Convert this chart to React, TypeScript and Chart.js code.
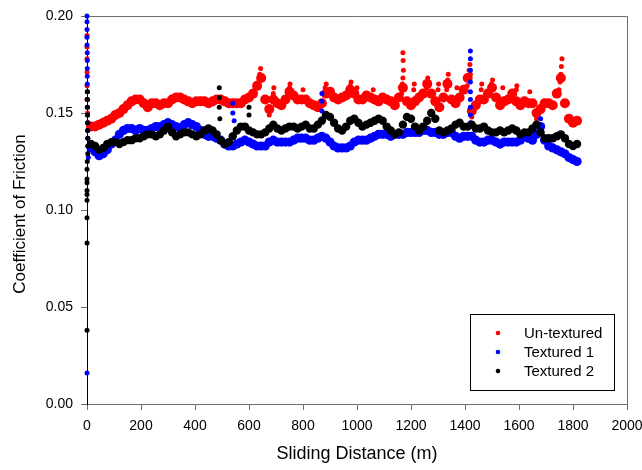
import React, { useEffect, useRef } from "react";
import { Chart, registerables } from "chart.js";

Chart.register(...registerables);

// Sliding distance grid (m) for the main traces
const distance = [
  15, 30, 45, 60, 75, 90, 105, 120, 135, 150,
  165, 180, 195, 210, 225, 240, 255, 270, 285, 300,
  315, 330, 345, 360, 375, 390, 405, 420, 435, 450,
  465, 480, 495, 510, 525, 540, 555, 570, 585, 600,
  615, 630, 645, 660, 675, 690, 705, 720, 735, 750,
  765, 780, 795, 810, 825, 840, 855, 870, 885, 900,
  915, 930, 945, 960, 975, 990, 1005, 1020, 1035, 1050,
  1065, 1080, 1095, 1110, 1125, 1140, 1155, 1170, 1185, 1200,
  1215, 1230, 1245, 1260, 1275, 1290, 1305, 1320, 1335, 1350,
  1365, 1380, 1395, 1410, 1425, 1440, 1455, 1470, 1485, 1500,
  1515, 1530, 1545, 1560, 1575, 1590, 1605, 1620, 1635, 1650,
  1665, 1680, 1695, 1710, 1725, 1740, 1755, 1770, 1785, 1800,
  1815,
];

const untextured = [
  0.143, 0.143, 0.144, 0.145, 0.146, 0.147, 0.149, 0.150, 0.152, 0.154,
  0.156, 0.157, 0.157, 0.155, 0.153, 0.155, 0.155, 0.154, 0.155, 0.155,
  0.157, 0.158, 0.158, 0.157, 0.156, 0.155, 0.156, 0.156, 0.156, 0.155,
  0.156, 0.157, 0.157, 0.156, 0.155, 0.155, 0.155, 0.155, 0.157, 0.158,
  0.160, 0.164, 0.168, 0.157, 0.152, 0.157, 0.155, 0.154, 0.157, 0.161,
  0.159, 0.157, 0.157, 0.157, 0.155, 0.154, 0.153, 0.155, 0.160, 0.161,
  0.158, 0.157, 0.158, 0.159, 0.162, 0.160, 0.157, 0.157, 0.159, 0.158,
  0.157, 0.156, 0.158, 0.157, 0.156, 0.154, 0.158, 0.163, 0.156, 0.154,
  0.156, 0.158, 0.160, 0.165, 0.160, 0.156, 0.153, 0.158, 0.165, 0.157,
  0.155, 0.158, 0.162, 0.168, 0.151, 0.154, 0.157, 0.157, 0.160, 0.163,
  0.158, 0.154, 0.156, 0.157, 0.160, 0.156, 0.154, 0.156, 0.155, 0.155,
  0.150, 0.152, 0.155, 0.155, 0.154, 0.160, 0.168, 0.155, 0.147, 0.145,
  0.146,
];

const textured1 = [
  0.132, 0.130, 0.128, 0.129, 0.131, 0.134, 0.136, 0.139, 0.141, 0.142,
  0.142, 0.141, 0.142, 0.141, 0.141, 0.142, 0.143, 0.143, 0.144, 0.145,
  0.144, 0.143, 0.142, 0.144, 0.145, 0.144, 0.143, 0.141, 0.139, 0.138,
  0.138, 0.137, 0.136, 0.134, 0.133, 0.133, 0.134, 0.135, 0.136, 0.135,
  0.134, 0.133, 0.133, 0.133, 0.135, 0.136, 0.135, 0.135, 0.135, 0.135,
  0.136, 0.137, 0.137, 0.137, 0.136, 0.136, 0.137, 0.138, 0.137, 0.135,
  0.133, 0.132, 0.132, 0.132, 0.133, 0.135, 0.136, 0.136, 0.136, 0.137,
  0.138, 0.139, 0.139, 0.139, 0.138, 0.139, 0.139, 0.139, 0.140, 0.140,
  0.140, 0.140, 0.141, 0.141, 0.140, 0.140, 0.139, 0.139, 0.140, 0.140,
  0.138, 0.137, 0.138, 0.138, 0.138, 0.136, 0.135, 0.135, 0.136, 0.136,
  0.135, 0.134, 0.135, 0.135, 0.135, 0.135, 0.136, 0.139, 0.137, 0.136,
  0.139, 0.143, 0.136, 0.133, 0.132, 0.131, 0.130, 0.129, 0.127, 0.126,
  0.125,
];

const textured2 = [
  0.134, 0.133, 0.131, 0.132, 0.134, 0.135, 0.135, 0.134, 0.135, 0.136,
  0.136, 0.137, 0.137, 0.138, 0.139, 0.139, 0.138, 0.139, 0.141, 0.143,
  0.140, 0.138, 0.139, 0.140, 0.140, 0.139, 0.138, 0.139, 0.141, 0.142,
  0.141, 0.139, 0.136, 0.134, 0.135, 0.138, 0.141, 0.143, 0.143, 0.141,
  0.140, 0.139, 0.139, 0.140, 0.142, 0.144, 0.142, 0.141, 0.142, 0.143,
  0.143, 0.142, 0.143, 0.144, 0.142, 0.142, 0.144, 0.146, 0.149, 0.148,
  0.145, 0.142, 0.141, 0.143, 0.146, 0.147, 0.145, 0.143, 0.144, 0.145,
  0.146, 0.147, 0.146, 0.143, 0.141, 0.139, 0.140, 0.144, 0.148, 0.147,
  0.143, 0.141, 0.143, 0.146, 0.150, 0.147, 0.141, 0.140, 0.141, 0.142,
  0.144, 0.145, 0.143, 0.143, 0.144, 0.142, 0.142, 0.143, 0.141, 0.140,
  0.140, 0.141, 0.140, 0.141, 0.142, 0.141, 0.139, 0.140, 0.140, 0.142,
  0.144, 0.140, 0.137, 0.137, 0.137, 0.138, 0.139, 0.137, 0.134, 0.133,
  0.134,
];

// Isolated points (start-up transient, spikes and peak runs)
const untexturedSpikeDist = [
  0, 0, 0, 0, 0, 0, 2, 4,
  636, 640, 643, 690, 692,
  1165, 1168, 1170, 1172, 1171, 1170,
  1258, 1262, 1332, 1336, 1338,
  1408, 1412, 1415, 1418, 1420, 1498, 1502,
  1748, 1752, 1755, 1757, 1759,
  750, 752, 800, 882, 886, 975, 978, 1000, 1060,
  1210, 1212, 1300, 1302, 1370, 1460, 1462, 1540, 1590, 1592, 1640,
  675, 1425, 1665,
];
const untexturedSpikeVal = [
  0.190, 0.184, 0.178, 0.171, 0.164, 0.157, 0.150, 0.145,
  0.166, 0.170, 0.173, 0.160, 0.163,
  0.160, 0.165, 0.168, 0.172, 0.177, 0.181,
  0.163, 0.168, 0.162, 0.167, 0.170,
  0.164, 0.168, 0.172, 0.175, 0.170, 0.165, 0.167,
  0.162, 0.166, 0.170, 0.174, 0.178,
  0.163, 0.165, 0.162, 0.163, 0.165, 0.164, 0.166, 0.163, 0.162,
  0.162, 0.165, 0.162, 0.165, 0.163, 0.162, 0.165, 0.163, 0.162, 0.164, 0.161,
  0.149, 0.148, 0.147,
];

const textured1SpikeDist = [0, 0, 0, 0, 0, 1, 1, 1, 1, 1, 2, 2, 2, 2, 3, 3, 3, 4, 5, 0, 540, 540, 545, 870, 870, 870, 872, 1420, 1420, 1420, 1420, 1420, 1420, 1420, 1420, 1420, 1680];
const textured1SpikeVal = [0.200, 0.197, 0.193, 0.189, 0.185, 0.181, 0.177, 0.173, 0.169, 0.165, 0.161, 0.157, 0.153, 0.149, 0.145, 0.141, 0.137, 0.133, 0.127, 0.016, 0.155, 0.150, 0.146, 0.160, 0.156, 0.151, 0.147, 0.182, 0.178, 0.172, 0.166, 0.161, 0.157, 0.153, 0.149, 0.145, 0.147];

const textured2SpikeDist = [1, 1, 1, 2, 2, 2, 3, 3, 3, 1, 0, 0, 0, 0, 0, 0, 0, 0, 0, 490, 490, 490, 492, 600, 600];
const textured2SpikeVal = [0.161, 0.157, 0.153, 0.149, 0.145, 0.141, 0.137, 0.133, 0.129, 0.125, 0.121, 0.116, 0.114, 0.110, 0.108, 0.105, 0.096, 0.083, 0.038, 0.163, 0.158, 0.153, 0.147, 0.153, 0.149];

const seriesLabels = ["Un-textured", "Textured 1", "Textured 2"];
const seriesColors = ["#ff0000", "#0000ff", "#000000"];
const yTitle = "Coefficient of Friction";
const xTitle = "Sliding Distance (m)";

const FONT = "'Liberation Sans', Arial, Helvetica, sans-serif";
const BAND_RADIUS = [5, 4.6, 4.2];

function buildPoints(xs: number[], ys: number[], sx: number[], sy: number[]) {
  const pts = xs.map((x, i) => ({ x, y: ys[i] }));
  sx.forEach((x, i) => pts.push({ x, y: sy[i] }));
  return pts;
}

const framePlugin = {
  id: "frame",
  beforeDatasetsDraw(chart: any) {
    const { ctx, chartArea: a } = chart;
    ctx.save();
    ctx.strokeStyle = "#6e6e6e";
    ctx.lineWidth = 1;
    ctx.beginPath();
    ctx.moveTo(a.left, a.top + 0.5);
    ctx.lineTo(a.right + 0.5, a.top + 0.5);
    ctx.lineTo(a.right + 0.5, a.bottom);
    ctx.stroke();
    ctx.restore();
  },
  afterDraw(chart: any) {
    const { ctx, chartArea: a } = chart;
    ctx.save();
    ctx.font = `17px ${FONT}`;
    ctx.fillStyle = "#000";
    ctx.textAlign = "center";
    ctx.textBaseline = "middle";
    ctx.translate(20, (a.top + a.bottom) / 2 + 4);
    ctx.rotate(-Math.PI / 2);
    ctx.fillText(yTitle, 0, 0);
    ctx.restore();

    const boxR = a.right - 13;
    const boxB = a.bottom - 14;
    const boxW = 144;
    const boxH = 76;
    const boxL = boxR - boxW;
    const boxT = boxB - boxH;
    ctx.save();
    ctx.fillStyle = "#ffffff";
    ctx.fillRect(boxL, boxT, boxW, boxH);
    ctx.strokeStyle = "#000000";
    ctx.lineWidth = 1;
    ctx.strokeRect(boxL + 0.5, boxT + 0.5, boxW, boxH);
    ctx.font = `15px ${FONT}`;
    ctx.textBaseline = "middle";
    ctx.textAlign = "left";
    chart.data.datasets.forEach((ds: any, i: number) => {
      const y = boxT + 19 + i * 19;
      ctx.fillStyle = ds.backgroundColor;
      ctx.beginPath();
      ctx.arc(boxL + 28, y, 2.3, 0, Math.PI * 2);
      ctx.fill();
      ctx.fillStyle = "#000000";
      ctx.fillText(ds.label, boxL + 54, y + 1);
    });
    ctx.restore();
  },
};

export default function App() {
  const canvasRef = useRef<HTMLCanvasElement | null>(null);

  useEffect(() => {
    if (!canvasRef.current) return;
    const mains = [untextured, textured1, textured2];
    const spikesX = [untexturedSpikeDist, textured1SpikeDist, textured2SpikeDist];
    const spikesY = [untexturedSpikeVal, textured1SpikeVal, textured2SpikeVal];
    const datasets = seriesLabels.map((label, i) => ({
      label,
      data: buildPoints(distance, mains[i], spikesX[i], spikesY[i]),
      backgroundColor: seriesColors[i],
      borderColor: seriesColors[i],
      borderWidth: 0,
      pointRadius: (c: any) => (c.dataIndex < distance.length ? BAND_RADIUS[i] : 2.5),
      pointHoverRadius: 3,
      showLine: false,
      clip: false as any,
      order: 3 - i,
    }));

    const chart = new Chart(canvasRef.current, {
      type: "scatter",
      data: { datasets },
      options: {
        animation: false,
        responsive: false,
        events: [],
        layout: { padding: { top: 16, right: 15, left: 0, bottom: 0 } },
        plugins: {
          legend: { display: false },
          tooltip: { enabled: false },
        },
        scales: {
          x: {
            type: "linear",
            min: 0,
            max: 2000,
            afterFit: (s: any) => {
              s.height = 66;
              s.paddingLeft = 0;
              s.paddingRight = 0;
            },
            ticks: {
              stepSize: 200,
              color: "#000",
              font: { family: FONT, size: 14 },
              padding: 8,
              maxRotation: 0,
              callback: (v: any) => String(v),
            },
            grid: {
              drawOnChartArea: false,
              drawTicks: true,
              tickLength: 6,
              tickColor: "#6e6e6e",
            },
            border: { color: "#6e6e6e", width: 1 },
            title: {
              display: true,
              text: xTitle,
              color: "#000",
              font: { family: FONT, size: 18 },
              padding: { top: 0, bottom: 5 },
            },
          },
          y: {
            type: "linear",
            min: 0,
            max: 0.2,
            afterFit: (s: any) => {
              s.width = 87;
              s.paddingTop = 0;
              s.paddingBottom = 0;
            },
            ticks: {
              stepSize: 0.05,
              color: "#000",
              font: { family: FONT, size: 14 },
              padding: 8,
              callback: (v: any) => Number(v).toFixed(2),
            },
            grid: {
              drawOnChartArea: false,
              drawTicks: true,
              tickLength: 6,
              tickColor: "#6e6e6e",
            },
            border: { color: "#000000", width: 1 },
            title: { display: false },
          },
        },
      },
      plugins: [framePlugin],
    });
    return () => chart.destroy();
  }, []);

  return (
    <div style={{ position: "fixed", left: 0, top: 0, width: 642, height: 470, background: "#fff" }}>
      <canvas ref={canvasRef} width={642} height={470} style={{ display: "block" }} />
    </div>
  );
}
